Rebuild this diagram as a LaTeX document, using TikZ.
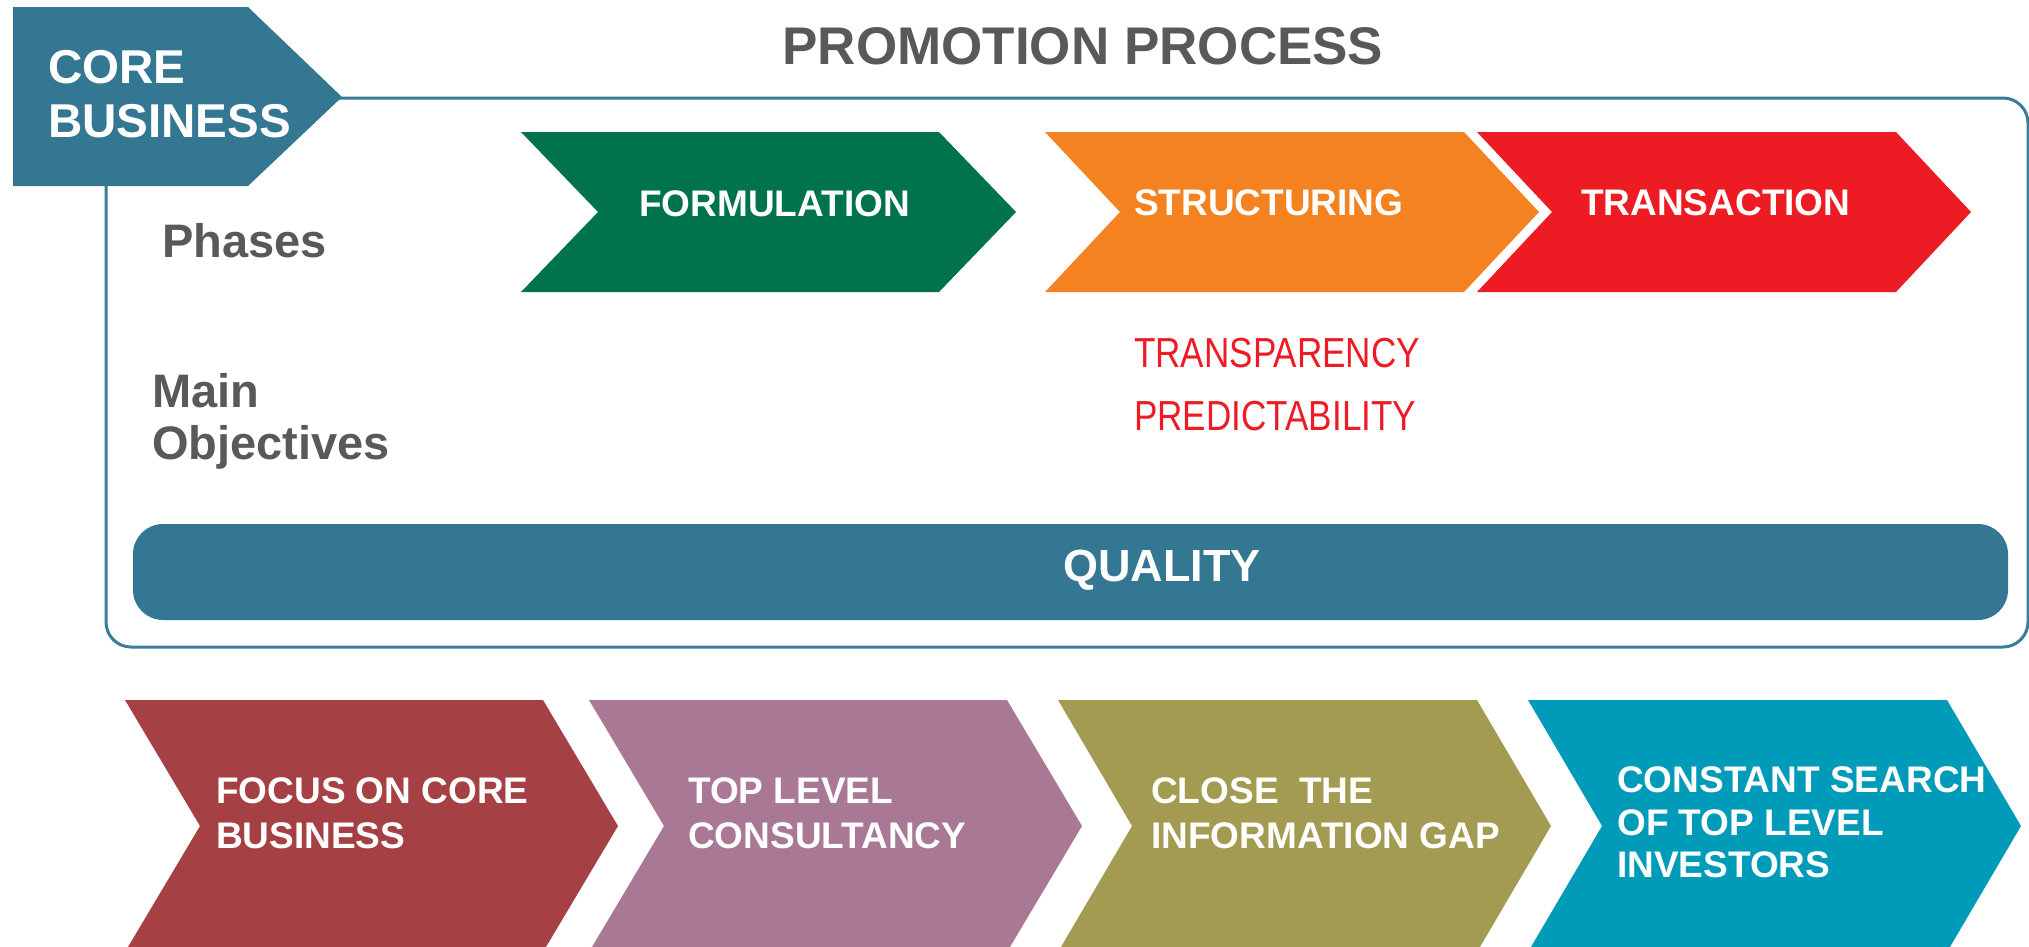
\documentclass[tikz,border=0pt]{standalone}
\usepackage{fontspec}
\setmainfont{Liberation Sans}
\definecolor{coreblue}{HTML}{337792}
\definecolor{framebl}{HTML}{3B7C98}
\definecolor{txtgray}{HTML}{58595B}
\definecolor{formgreen}{HTML}{00734B}
\definecolor{strorange}{HTML}{F58220}
\definecolor{transred}{HTML}{ED1C24}
\definecolor{cmaroon}{HTML}{A54045}
\definecolor{cmauve}{HTML}{A87894}
\definecolor{colive}{HTML}{A39B51}
\definecolor{cteal}{HTML}{009BB9}
% chevron: colour, left x, top y, flat width, depth, height
\newcommand\mychev[6]{%
  \fill[#1] (#2,#3) -- ++(#4,0) -- ++(#5,#6/2) -- ++(-#5,#6/2) -- ++(-#4,0) -- ++(#5,-#6/2) -- cycle;}
\tikzset{
  whitebold/.style={text=white,inner sep=0pt,font=\bfseries\fontsize{37}{44}\selectfont},
  bottomtxt/.style={text=white,inner sep=0pt,anchor=base west,font=\bfseries\fontsize{37}{44}\selectfont},
  graytxt/.style={text=txtgray,inner sep=0pt,anchor=base west,font=\bfseries\fontsize{47}{56}\selectfont},
  redtxt/.style={text=transred,inner sep=0pt,anchor=base west,font=\fontsize{42}{50}\selectfont},
}
\begin{document}
\begin{tikzpicture}[x=1pt,y=-1pt]
\useasboundingbox (0,0) rectangle (2029,946);
\clip (0,0) rectangle (2029,946);
% outer frame
\draw[framebl,line width=3pt,rounded corners=25pt] (106,98) rectangle (2028,647);
% core business box
\fill[coreblue] (13,7) -- (248,7) -- (342,97) -- (248,186) -- (13,186) -- cycle;
\node[text=white,inner sep=0pt,anchor=base west,font=\bfseries\fontsize{47.5}{56}\selectfont] (core1) at (48,83) {CORE};
\node[text=white,inner sep=0pt,anchor=base west,font=\bfseries\fontsize{47.5}{56}\selectfont] (core2) at (48,137) {BUSINESS};
% title
\node[text=txtgray,inner sep=0pt,anchor=base,font=\bfseries\fontsize{53}{60}\selectfont] (title) at (1083,64) {PROMOTION PROCESS};
% row labels
\node[graytxt] (phases) at (162,257) {Phases};
\node[graytxt] (main1) at (152,407) {Main};
\node[graytxt] (main2) at (152,459) {Objectives};
% phase chevrons
\mychev{formgreen}{521}{132}{418}{77}{160}
\mychev{strorange}{1045}{132}{419}{75}{160}
\mychev{transred}{1477}{132}{419}{75}{160}
\node[whitebold,anchor=base west] (form) at (639,216) {FORMULATION};
\node[whitebold,anchor=base west] (struct) at (1134,215) {STRUCTURING};
\node[whitebold,anchor=base west] (trans) at (1581,215) {TRANSACTION};
% objectives
\node[redtxt] (transp) at (1134,367) {\scalebox{0.835}[1]{TRANSPARENCY}};
\node[redtxt] (predict) at (1134,430) {\scalebox{0.835}[1]{PREDICTABILITY}};
% quality bar
\fill[coreblue,rounded corners=30pt] (133,524) rectangle (2008,620);
\node[text=white,inner sep=0pt,anchor=base,font=\bfseries\fontsize{45}{54}\selectfont] (quality) at (1162,581) {QUALITY};
% bottom chevrons
\mychev{cmaroon}{125}{700}{418}{75}{252}
\mychev{cmauve}{589}{700}{418}{75}{252}
\mychev{colive}{1058}{700}{419}{74}{252}
\mychev{cteal}{1528}{700}{419}{74}{252}
\node[bottomtxt] (b1a) at (216,803) {FOCUS ON CORE};
\node[bottomtxt] (b1b) at (216,848) {BUSINESS};
\node[bottomtxt] (b2a) at (688,803) {TOP LEVEL};
\node[bottomtxt] (b2b) at (688,848) {CONSULTANCY};
\node[bottomtxt] (b3a) at (1151,803) {CLOSE\ \ THE};
\node[bottomtxt] (b3b) at (1151,848) {INFORMATION GAP};
\node[bottomtxt] (b4a) at (1617,792) {CONSTANT SEARCH};
\node[bottomtxt] (b4b) at (1617,835) {OF TOP LEVEL};
\node[bottomtxt] (b4c) at (1617,877) {INVESTORS};
\end{tikzpicture}
\end{document}
